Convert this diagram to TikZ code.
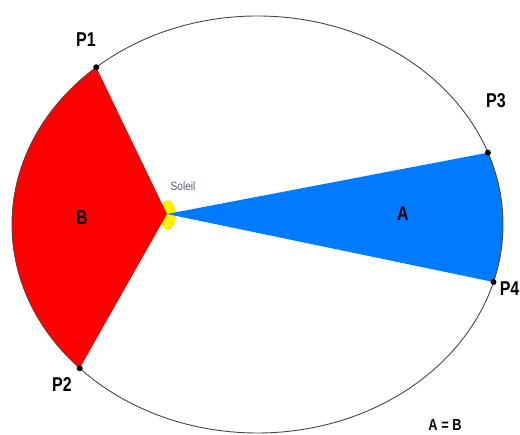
\documentclass[tikz,border=0pt]{standalone}
\usepackage{fontspec}
\setmainfont{Liberation Sans}
\usetikzlibrary{calc}
\definecolor{kred}{RGB}{255,0,0}
\definecolor{kblue}{RGB}{0,122,255}
\definecolor{ksun}{RGB}{255,240,0}
\definecolor{ktext}{RGB}{95,85,125}
\definecolor{korbit}{RGB}{70,70,70}
\begin{document}
\begin{tikzpicture}[x=1pt,y=1pt,
  plabel/.style={font=\bfseries\fontsize{20}{20}\selectfont, xscale=0.8, inner sep=0pt},
  pdot/.style={fill=black, circle, minimum size=6pt, inner sep=0pt}]
\useasboundingbox (0,0) rectangle (520,435);
\coordinate (C) at (257.5,210.5);
\coordinate (S) at (167,221);
\coordinate (P1) at ($(C)+(131.05:245.5 and 208.5)$);
\coordinate (P2) at ($(C)+(223.6:245.5 and 208.5)$);
\coordinate (P3) at ($(C)+(20.15:245.5 and 208.5)$);
\coordinate (P4) at ($(C)+(-16.0:245.5 and 208.5)$);
% sun
\fill[ksun] (168,220) ellipse[x radius=8, y radius=15];
% sectors
\fill[kred] (S) -- (P1) arc[start angle=131.05, end angle=223.6, x radius=245.5, y radius=208.5] -- cycle;
\fill[kblue] (S) -- (P3) arc[start angle=20.15, end angle=-16.0, x radius=245.5, y radius=208.5] -- cycle;
% orbit
\draw[korbit, line width=0.9pt] (C) ellipse[x radius=245.5, y radius=208.5];
% points
\node[pdot] (d1) at (P1) {};
\node[pdot] (d2) at (P2) {};
\node[pdot] (d3) at (P3) {};
\node[pdot] (d4) at (P4) {};
\node[plabel] (l1) at (86,395) {P1};
\node[plabel] (l2) at (62,50) {P2};
\node[plabel] (l3) at (496,334) {P3};
\node[plabel, anchor=east] (l4) at (519.5,146) {P4};
\node[plabel] (lb) at (82,217) {B};
\node[plabel] (la) at (403,221) {A};
\node[font=\fontsize{12}{12}\selectfont, text=ktext, xscale=0.85, inner sep=0pt] (ls) at (183,249) {Soleil};
\node[font=\bfseries\fontsize{16}{16}\selectfont, xscale=0.8, inner sep=0pt] (eq) at (445,10) {A = B};
\end{tikzpicture}
\end{document}
